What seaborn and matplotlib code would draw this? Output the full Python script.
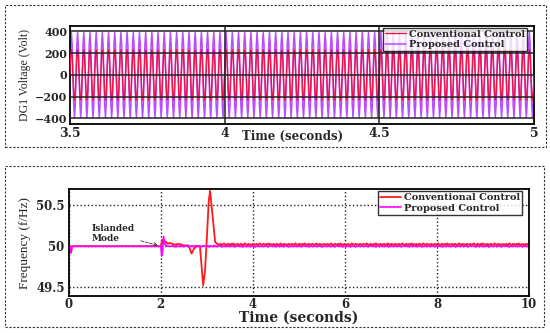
import numpy as np
import pandas as pd
import seaborn as sns
import matplotlib.pyplot as plt
from matplotlib.patches import Rectangle

# ---- top panel: DG1 voltage, one 50 Hz cycle, repeated
v_t0, v_t1 = 3.5, 5.0
cycle_period = 0.02
conv_cycle = [0, 165, 233, 165, 0, -165, -233, -165]
prop_cycle = [0, 276, 390, 276, 0, -276, -390, -276]
v_xticks = [3.5, 4, 4.5, 5]
v_yticks = [-400, -200, 0, 200, 400]

# ---- bottom panel: frequency
conv_t = [0, 0.03, 0.05, 0.07, 2.0, 2.03, 2.06, 2.1, 2.15, 2.2, 2.3, 2.4, 2.5, 2.6,
          2.63, 2.67, 2.72, 2.78, 2.85, 2.88, 2.92, 2.96, 3.0, 3.04, 3.07, 3.12, 3.18, 3.25]
conv_f = [50, 50, 49.92, 50, 50, 50.08, 50.04, 50.06, 50.03, 50.04, 50.02, 50.03, 50.01, 50.01,
          49.97, 49.91, 49.97, 50.0, 50.0, 49.8, 49.52, 49.7, 50.1, 50.55, 50.68, 50.4, 50.05, 50.02]
prop_t = [0, 0.03, 0.05, 0.07, 2.0, 2.02, 2.04, 2.06, 2.09, 2.15, 2.2]
prop_f = [50, 50, 49.92, 50, 50, 49.88, 49.95, 50.12, 50.02, 50.0, 50.0]
conv_ripple = [0.02, 0.03, 0.015, 0.025, 0.035, 0.02, 0.01, 0.03, 0.025, 0.015,
               0.03, 0.02, 0.035, 0.015, 0.025, 0.02, 0.03, 0.01, 0.025, 0.03,
               0.015, 0.02, 0.035, 0.025, 0.01, 0.03, 0.02, 0.025, 0.015, 0.03, 0.02]
prop_ripple = [0.0, 0.01, -0.005, 0.005, -0.01, 0.008, 0.0, -0.006, 0.012, -0.004,
               0.004, -0.008, 0.006, 0.0, 0.01, -0.01, 0.003, -0.003, 0.008, -0.006,
               0.002, 0.009, -0.007, 0.005, -0.002, 0.007, -0.009, 0.001, 0.006]
ripple_step = 0.025
f_xticks = [0, 2, 4, 6, 8, 10]
f_yticks = [49.5, 50, 50.5]

# build tables
n_cyc = int(round((v_t1 - v_t0) / cycle_period))
dt = cycle_period / len(conv_cycle)
vt = v_t0 + np.arange(n_cyc * len(conv_cycle) + 1) * dt
volt = pd.DataFrame({
    "t": vt,
    "conv": np.append(np.tile(conv_cycle, n_cyc), conv_cycle[0]),
    "prop": np.append(np.tile(prop_cycle, n_cyc), prop_cycle[0]),
})

ct = np.arange(conv_t[-1] + ripple_step, 10.0 + 1e-9, ripple_step)
cf = 50 + np.resize(conv_ripple, len(ct))
pt = np.arange(prop_t[-1] + ripple_step, 10.0 + 1e-9, ripple_step)
pf = 50 + np.resize(prop_ripple, len(pt))
freq_conv = pd.DataFrame({"t": np.concatenate([conv_t, ct]), "f": np.concatenate([conv_f, cf])})
freq_prop = pd.DataFrame({"t": np.concatenate([prop_t, pt]), "f": np.concatenate([prop_f, pf])})

sns.set_theme(style="white")
plt.rcParams["font.family"] = ["DejaVu Serif"]
plt.rcParams["xtick.direction"] = "in"
plt.rcParams["ytick.direction"] = "in"

fig = plt.figure(figsize=(5.5, 3.33), dpi=100)
ax1 = fig.add_axes([0.127, 0.628, 0.844, 0.294])
ax2 = fig.add_axes([0.125, 0.111, 0.837, 0.321])

# dashed frames round each panel
for rect in [(0.009, 0.559, 0.984, 0.426), (0.009, 0.018, 0.980, 0.483)]:
    fig.add_artist(Rectangle(rect[:2], rect[2], rect[3], transform=fig.transFigure,
                             fill=False, ls=(0, (2, 1.5)), lw=0.8, ec="#333333"))

# top panel
sns.lineplot(data=volt, x="t", y="prop", ax=ax1, color="#b84dff", lw=1.1,
             estimator=None, sort=False, label="Proposed Control", zorder=2)
sns.lineplot(data=volt, x="t", y="conv", ax=ax1, color="#f0104a", lw=1.0,
             estimator=None, sort=False, label="Conventional Control", zorder=3)
ax1.set_xlim(v_t0, v_t1)
ax1.set_ylim(-450, 450)
ax1.set_xticks(v_xticks)
ax1.set_xticklabels(["3.5", "4", "4.5", "5"])
ax1.set_yticks(v_yticks)
for v in v_yticks:
    ax1.axhline(v, color="#222222", lw=1.1, zorder=4)
for v in v_xticks[1:-1]:
    ax1.axvline(v, color="#222222", lw=1.1, zorder=4)
ax1.set_xlabel("Time (seconds)", fontsize=8.5, fontweight="bold")
ax1.xaxis.set_label_coords(0.48, -0.065)
ax1.set_ylabel("DG1 Voltage (Volt)", fontsize=8.5, family="Liberation Serif", labelpad=3)
ax1.tick_params(labelsize=8, length=2.5, pad=2)
for lab in ax1.get_yticklabels():
    lab.set_fontweight("bold")
for lab in ax1.get_xticklabels():
    lab.set_fontweight("bold")
    lab.set_fontsize(9)
h, l = ax1.get_legend_handles_labels()
leg = ax1.legend(h[::-1], l[::-1], loc="upper right", bbox_to_anchor=(0.985, 0.98),
                 prop={"weight": "bold", "size": 7}, frameon=True, fancybox=False,
                 edgecolor="black", handlelength=2.2, handletextpad=0.3,
                 borderpad=0.2, labelspacing=0.15, borderaxespad=0)
leg.get_frame().set_linewidth(1.0)
leg.set_zorder(10)

# bottom panel
sns.lineplot(data=freq_conv, x="t", y="f", ax=ax2, color="#ff1a1a", lw=1.3,
             estimator=None, sort=False, label="Conventional Control")
sns.lineplot(data=freq_prop, x="t", y="f", ax=ax2, color="#ff00ff", lw=1.2,
             estimator=None, sort=False, label="Proposed Control")
ax2.set_xlim(0, 10)
ax2.set_ylim(49.39, 50.70)
ax2.set_xticks(f_xticks)
ax2.set_yticks(f_yticks)
ax2.set_yticklabels(["49.5", "50", "50.5"])
ax2.grid(True, color="#222222", ls=":", lw=1.0)
ax2.set_xlabel("Time (seconds)", fontsize=10, fontweight="bold", labelpad=0)
ax2.set_ylabel("Frequency (f/Hz)", fontsize=9.5, family="Liberation Serif", labelpad=4)
ax2.tick_params(axis="y", labelsize=8.5, length=2.5, pad=3)
ax2.tick_params(axis="x", labelsize=8.5, length=2.5, pad=1.5)
for lab in ax2.get_xticklabels() + ax2.get_yticklabels():
    lab.set_fontweight("bold")
leg2 = ax2.legend(loc="upper right", bbox_to_anchor=(0.985, 0.98),
                  prop={"weight": "bold", "size": 7}, frameon=True, fancybox=False,
                  edgecolor="black", handlelength=2.2, handletextpad=0.3,
                  borderpad=0.2, labelspacing=0.15, borderaxespad=0)
leg2.get_frame().set_linewidth(1.0)
ax2.annotate("Islanded\nMode", xy=(2.0, 50.0), xytext=(0.5, 50.16),
             fontsize=6.5, fontweight="bold", ha="left", va="center",
             arrowprops=dict(arrowstyle="->", ls="--", lw=0.6, color="#333333"))

for ax in (ax1, ax2):
    for s in ax.spines.values():
        s.set_linewidth(1.3)
        s.set_color("black")

fig.savefig("out.png", dpi=100)
